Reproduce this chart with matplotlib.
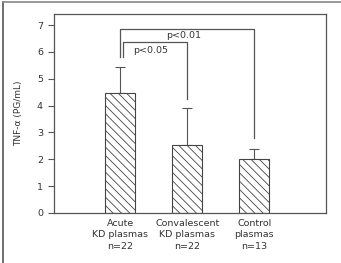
import matplotlib.pyplot as plt
from matplotlib.lines import Line2D

# data
groups = ["Acute\nKD plasmas\nn=22", "Convalescent\nKD plasmas\nn=22", "Control\nplasmas\nn=13"]
means = [4.45, 2.55, 2.02]
errors = [1.0, 1.35, 0.35]

# significance brackets: (left, right, top, left leg end, right leg end, label)
brackets = [
    (0.0, 2.0, 6.86, 5.82, 2.78, "p<0.01"),
    (0.05, 1.0, 6.38, 5.82, 4.23, "p<0.05"),
]
label_pos = [(0.95, 6.6), (0.46, 6.06)]

plt.rcParams['font.family'] = ['DejaVu Sans']
plt.rcParams['hatch.color'] = '#444444'
plt.rcParams['hatch.linewidth'] = 0.6

fig = plt.figure(figsize=(3.41, 2.63), dpi=100)
ax = fig.add_axes([54 / 341, 1 - 213 / 263, 272 / 341, 199 / 263])

x = range(len(groups))
ax.bar(x, means, width=0.45, color='white', edgecolor='#444444',
       linewidth=0.8, hatch='\\\\\\\\', zorder=2)
ax.errorbar(x, means, yerr=[[0] * len(errors), errors], fmt='none',
            ecolor='#555555', elinewidth=0.8, capsize=3.5, capthick=0.8, zorder=1)

for (l, r, top, lend, rend, txt), (tx, ty) in zip(brackets, label_pos):
    ax.plot([l, l, r, r], [lend, top, top, rend], color='#555555', lw=0.9)
    ax.text(tx, ty, txt, fontsize=6.8, color='#333333', ha='center', va='center')

ax.set_xlim(-0.985, 3.07)
ax.set_ylim(0, 7.41)
ax.set_yticks(range(8))
ax.set_xticks(list(x))
ax.set_xticklabels(groups, fontsize=6.8, color='#333333', linespacing=1.4)
ax.tick_params(axis='x', length=0, pad=4)
ax.tick_params(axis='y', length=4, width=0.8, color='#555555', labelsize=6.8,
               labelcolor='#333333', pad=4)
for s in ax.spines.values():
    s.set_color('#555555')
    s.set_linewidth(0.9)
ax.set_ylabel("TNF-\u03b1 (PG/mL)", fontsize=6.5, color='#333333', labelpad=10)

# outer frame lines (top and left)
fig.add_artist(Line2D([3 / 341, 3 / 341], [0, 1 - 1.5 / 263], color='#555555', lw=1.2))
fig.add_artist(Line2D([3 / 341, 1], [1 - 1.5 / 263, 1 - 1.5 / 263], color='#888888', lw=1.2))

fig.savefig("out.png", dpi=100)
